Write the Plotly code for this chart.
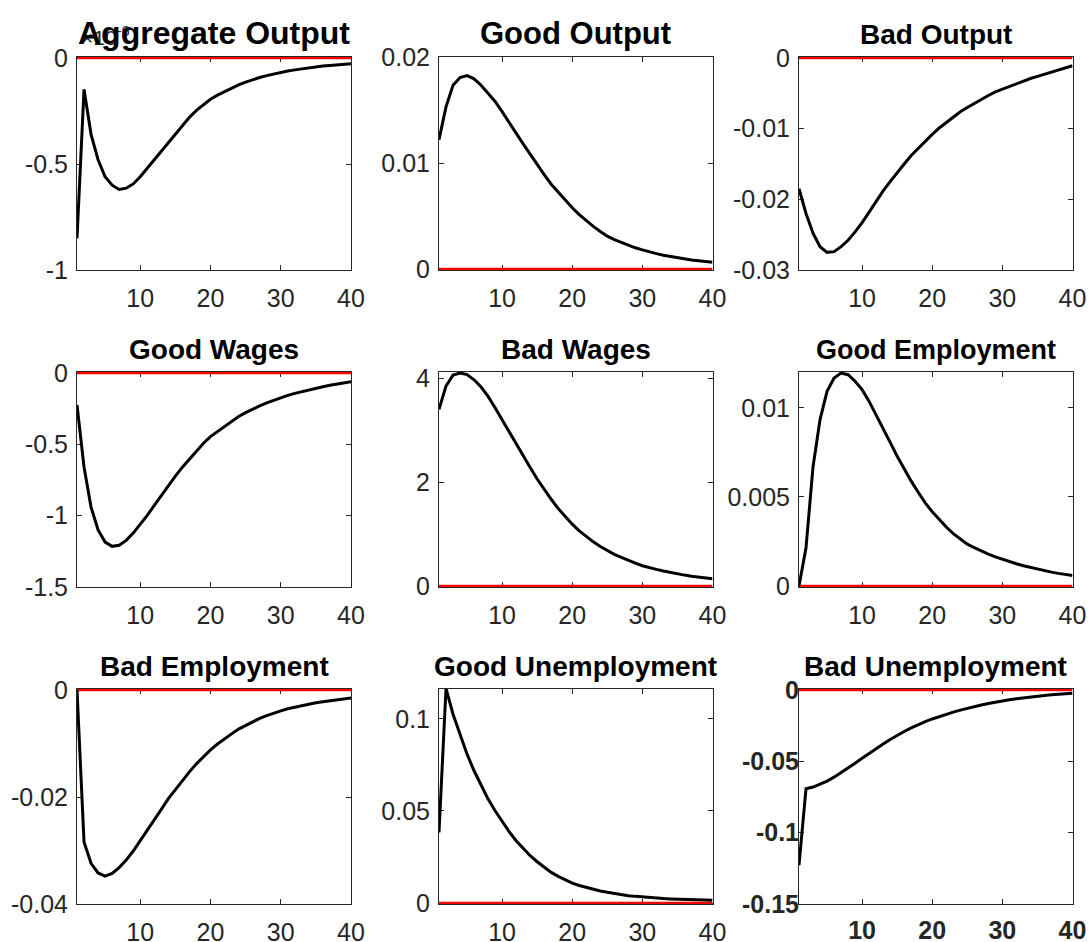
import plotly.graph_objects as go

periods = list(range(1, 41))

titles = ["Aggregate Output", "Good Output", "Bad Output",
          "Good Wages", "Bad Wages", "Good Employment",
          "Bad Employment", "Good Unemployment", "Bad Unemployment"]

# Aggregate output is in units of 1e-6 (MATLAB exponent label)
aggregate_output = [-0.85, -0.148, -0.36, -0.48, -0.56, -0.60, -0.62, -0.614, -0.594, -0.56,
                    -0.52, -0.48, -0.44, -0.40, -0.356, -0.317, -0.28, -0.247, -0.219, -0.195,
                    -0.175, -0.158, -0.142, -0.127, -0.114, -0.102, -0.092, -0.083, -0.075, -0.068,
                    -0.061, -0.056, -0.051, -0.046, -0.042, -0.038, -0.035, -0.032, -0.029, -0.027]
good_output = [0.0122, 0.0153, 0.01734, 0.01806, 0.01825, 0.01794, 0.01734, 0.0166, 0.0158, 0.01484,
               0.0138, 0.0128, 0.0118, 0.01084, 0.00984, 0.0089, 0.0080, 0.00725, 0.00647, 0.00578,
               0.00513, 0.00455, 0.00402, 0.00354, 0.0031, 0.00278, 0.0025, 0.00224, 0.002, 0.0018,
               0.0016, 0.00145, 0.0013, 0.00117, 0.00105, 0.00095, 0.00085, 0.00077, 0.0007, 0.00063]
bad_output = [-0.0185, -0.022, -0.0248, -0.0267, -0.0275, -0.0274, -0.0267, -0.0258, -0.0246, -0.0233,
              -0.0218, -0.0203, -0.0188, -0.0175, -0.0162, -0.015, -0.0138, -0.0128, -0.0117, -0.0108,
              -0.0099, -0.0091, -0.0083, -0.0076, -0.0070, -0.0064, -0.0058, -0.0053, -0.0048, -0.0044,
              -0.0040, -0.0036, -0.0032, -0.0029, -0.0026, -0.0023, -0.0020, -0.0017, -0.0014, -0.0011]
good_wages = [-0.224, -0.66, -0.94, -1.10, -1.185, -1.215, -1.208, -1.173, -1.122, -1.064,
              -0.998, -0.928, -0.858, -0.789, -0.723, -0.66, -0.602, -0.543, -0.492, -0.446,
              -0.41, -0.375, -0.34, -0.305, -0.278, -0.253, -0.23, -0.209, -0.19, -0.173,
              -0.157, -0.143, -0.13, -0.118, -0.107, -0.096, -0.086, -0.077, -0.069, -0.061]
bad_wages = [3.40, 3.85, 4.06, 4.10, 4.07, 3.97, 3.83, 3.65, 3.43, 3.20,
             2.96, 2.72, 2.50, 2.28, 2.06, 1.86, 1.67, 1.49, 1.33, 1.19,
             1.06, 0.95, 0.85, 0.76, 0.68, 0.61, 0.55, 0.49, 0.44, 0.39,
             0.35, 0.32, 0.29, 0.26, 0.235, 0.21, 0.19, 0.17, 0.155, 0.14]
good_employment = [0.0, 0.00215, 0.0067, 0.00935, 0.01093, 0.01168, 0.01196, 0.01187, 0.0115, 0.01103,
                   0.01037, 0.00963, 0.00888, 0.00807, 0.00729, 0.00658, 0.00589, 0.00527, 0.00467, 0.00417,
                   0.00372, 0.00331, 0.00294, 0.00262, 0.00235, 0.00215, 0.00196, 0.00179, 0.00164, 0.0015,
                   0.00137, 0.00125, 0.00114, 0.00104, 0.00094, 0.00086, 0.00078, 0.00071, 0.00065, 0.00059]
bad_employment = [0.0, -0.0284, -0.0324, -0.0342, -0.0348, -0.0343, -0.0332, -0.0318, -0.0301, -0.0282,
                  -0.0262, -0.0242, -0.0223, -0.0203, -0.0186, -0.0169, -0.0153, -0.0138, -0.0124, -0.0112,
                  -0.0101, -0.0091, -0.0082, -0.0073, -0.0066, -0.0059, -0.0053, -0.0048, -0.0043, -0.0039,
                  -0.0035, -0.0032, -0.0029, -0.0026, -0.0024, -0.0022, -0.0020, -0.0018, -0.0016, -0.0015]
good_unemployment = [0.0383, 0.1165, 0.1025, 0.0911, 0.0808, 0.0718, 0.0637, 0.0564, 0.0501, 0.0441,
                     0.0387, 0.0338, 0.0297, 0.0257, 0.0224, 0.0193, 0.0166, 0.0145, 0.0125, 0.0108,
                     0.0095, 0.0084, 0.0074, 0.0065, 0.0058, 0.0051, 0.0045, 0.0040, 0.0036, 0.0032,
                     0.0029, 0.0026, 0.0024, 0.0022, 0.0020, 0.0019, 0.0018, 0.0017, 0.0016, 0.0015]
bad_unemployment = [-0.1228, -0.0692, -0.068, -0.0662, -0.0639, -0.0611, -0.058, -0.0548, -0.0513, -0.0478,
                    -0.0443, -0.0408, -0.0378, -0.0347, -0.0317, -0.0291, -0.0266, -0.0242, -0.0221, -0.0203,
                    -0.0186, -0.0170, -0.0155, -0.0141, -0.0128, -0.0116, -0.0105, -0.0095, -0.0085, -0.0077,
                    -0.0069, -0.0062, -0.0055, -0.0049, -0.0044, -0.0039, -0.0034, -0.0030, -0.0026, -0.0022]

series = [aggregate_output, good_output, bad_output,
          good_wages, bad_wages, good_employment,
          bad_employment, good_unemployment, bad_unemployment]

y_ranges = [[-1, 0], [0, 0.02], [-0.03, 0],
            [-1.5, 0], [0, 4.12], [0, 0.01202],
            [-0.04, 0], [0, 0.1162], [-0.15, 0]]
y_ticks = [[-1, -0.5, 0], [0, 0.01, 0.02], [-0.03, -0.02, -0.01, 0],
           [-1.5, -1, -0.5, 0], [0, 2, 4], [0, 0.005, 0.01],
           [-0.04, -0.02, 0], [0, 0.05, 0.1], [-0.15, -0.1, -0.05, 0]]
y_ticktext = [["-1", "-0.5", "0"], ["0", "0.01", "0.02"], ["-0.03", "-0.02", "-0.01", "0"],
              ["-1.5", "-1", "-0.5", "0"], ["0", "2", "4"], ["0", "0.005", "0.01"],
              ["-0.04", "-0.02", "0"], ["0", "0.05", "0.1"], ["-0.15", "-0.1", "-0.05", "0"]]
x_ticks = [10, 20, 30, 40]

W, H = 1090, 942
col_px = [(77, 351), (439, 712.5), (799, 1072.5)]
row_px = [(57, 270), (372, 587), (689, 904)]
title_sizes = [32, 31, 28, 28, 28, 27, 28, 28, 28]

AX = "#262626"
FONT = "Liberation Sans, Arial, sans-serif"

fig = go.Figure()
annotations = []

for i in range(9):
    r, c = divmod(i, 3)
    n = i + 1
    xa = "x" if n == 1 else f"x{n}"
    ya = "y" if n == 1 else f"y{n}"
    bold = (i == 8)
    tickfont = dict(family=FONT, size=25, color=AX, weight="bold" if bold else "normal")
    x0, x1 = col_px[c]
    y0, y1 = row_px[r]
    # pad the zero side by ~1px so the red zero line sits on the box edge
    lo, hi = y_ranges[i]
    px_unit = (hi - lo) / (y1 - y0)
    if hi == 0:
        rng = [lo, hi + 1.0 * px_unit]
    else:
        rng = [lo - 1.0 * px_unit, hi]
    fig.add_trace(go.Scatter(x=periods, y=[0] * len(periods), mode="lines",
                             line=dict(color="#ff0000", width=2.5), xaxis=xa, yaxis=ya,
                             showlegend=False, hoverinfo="skip"))
    fig.add_trace(go.Scatter(x=periods, y=series[i], mode="lines",
                             line=dict(color="black", width=3), xaxis=xa, yaxis=ya,
                             showlegend=False))
    xkey = "xaxis" if n == 1 else f"xaxis{n}"
    ykey = "yaxis" if n == 1 else f"yaxis{n}"
    fig.layout[xkey] = dict(domain=[x0 / W, x1 / W], range=[1, 40], tickvals=x_ticks,
                            ticks="inside", ticklen=5, tickwidth=1, tickcolor=AX,
                            showline=True, linecolor=AX, linewidth=1, mirror="ticks",
                            showgrid=False, zeroline=False, tickfont=tickfont,
                            anchor=ya, layer="below traces",
                            ticklabelstandoff=6 if not bold else 4,
                            automargin=False)
    fig.layout[ykey] = dict(domain=[1 - y1 / H, 1 - y0 / H], range=rng,
                            tickvals=y_ticks[i], ticktext=y_ticktext[i],
                            ticks="inside", ticklen=5, tickwidth=1, tickcolor=AX,
                            showline=True, linecolor=AX, linewidth=1, mirror="ticks",
                            showgrid=False, zeroline=False, tickfont=tickfont,
                            anchor=xa, layer="below traces",
                            ticklabelstandoff=3 if not bold else -6,
                            automargin=False)

# MATLAB exponent label for the first panel (drawn beneath the title)
annotations.append(dict(text="×10<sup>-6</sup>", x=79 / W, y=1 - 51 / H,
                        xref="paper", yref="paper", xanchor="left", yanchor="bottom",
                        showarrow=False, font=dict(family=FONT, size=21, color=AX)))

for i in range(9):
    r, c = divmod(i, 3)
    x0, x1 = col_px[c]
    y0, _ = row_px[r]
    s = title_sizes[i]
    bottom_px = y0 - 13 + 0.29 * s
    annotations.append(dict(text=f"<b>{titles[i]}</b>", x=(x0 + x1) / 2 / W, y=1 - bottom_px / H,
                            xref="paper", yref="paper", xanchor="center", yanchor="bottom",
                            showarrow=False, font=dict(family=FONT, size=s, color="black")))

fig.update_layout(width=W, height=H, margin=dict(l=0, r=0, t=0, b=0, autoexpand=False),
                  paper_bgcolor="white", plot_bgcolor="white",
                  annotations=annotations, showlegend=False)

fig.write_html("out.html")
